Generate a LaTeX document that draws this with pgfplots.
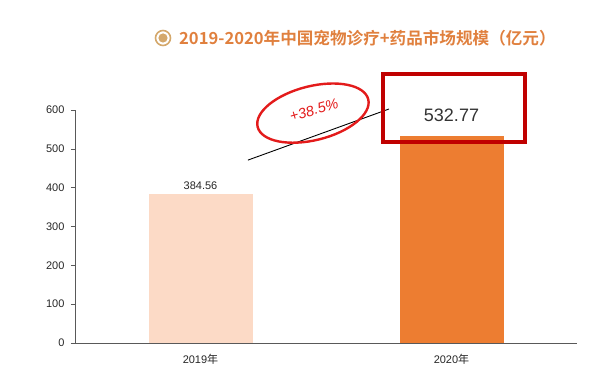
\documentclass[border=0pt]{standalone}
\usepackage{pgfplots}
\pgfplotsset{compat=1.18}
\usepackage{fontspec}
\setmainfont{Liberation Sans}
\newfontfamily\cjk{Noto Sans CJK SC}
\newfontfamily\cjkb{Noto Sans CJK SC Bold}
\definecolor{bar19}{HTML}{FCDAC6}
\definecolor{bar20}{HTML}{ED7D31}
\definecolor{titlec}{HTML}{E0803E}
\definecolor{icon}{HTML}{D4A86C}
\definecolor{boxred}{HTML}{C00000}
\definecolor{inkred}{HTML}{E31B1B}
\definecolor{axgray}{HTML}{595959}
\begin{document}
\begin{tikzpicture}
\path[use as bounding box] (0pt,0pt) rectangle (600pt,391pt);
% title
\draw[icon, line width=1.6pt] (163pt,353pt) circle (7.5pt);
\fill[icon] (163pt,353pt) circle (4.6pt);
\node[anchor=west, text=titlec, inner sep=0pt] at (179pt,353pt) {\fontsize{16.6}{19}\selectfont\cjkb 2019-2020年中国宠物诊疗+药品市场规模（亿元）};
\begin{axis}[
  at={(75pt,48pt)}, anchor=south west,
  scale only axis, width=502pt, height=233pt,
  xmin=-0.5, xmax=1.5, ymin=0, ymax=600,
  axis x line=bottom, axis y line=left,
  axis line style={-, axgray, line width=0.8pt},
  ytick={0,100,...,600},
  xtick={0,1},
  xticklabels={2019{\cjk 年}, 2020{\cjk 年}},
  x tick style={draw=none},
  y tick style={axgray, line width=0.6pt},
  tick align=outside, major tick length=4pt,
  extra x ticks={0.5,1.5}, extra x tick labels={},
  extra x tick style={tick align=inside, major tick length=3pt, tick style={draw=axgray, line width=0.6pt}},
  yticklabel style={font=\fontsize{11}{13}\selectfont, text=black!85, xshift=-3pt},
  xticklabel style={font=\fontsize{11}{13}\selectfont, text=black!85, yshift=-4pt},
  /pgf/number format/assume math mode=true,
  ybar, bar width=104pt,
  clip=false,
]
\addplot[fill=bar19, draw=none, bar shift=0pt,
  nodes near coords, nodes near coords style={font=\fontsize{11}{13}\selectfont, text=black!85, yshift=1pt},
  point meta=explicit symbolic]
  coordinates {(0,384.56) [384.56]};
\addplot[fill=bar20, draw=none, bar shift=0pt,
  nodes near coords, nodes near coords style={font=\fontsize{18}{21}\selectfont, text=black!80, yshift=11pt},
  point meta=explicit symbolic]
  coordinates {(1,532.77) [532.77]};
% growth line
\draw[black, line width=0.9pt] (axis cs:0.189,471) -- (axis cs:0.751,602.6);
% red box
\draw[boxred, line width=3.2pt] (axis cs:0.727,517.6) rectangle (axis cs:1.293,692.7);
% ellipse annotation
\draw[inkred, line width=2.4pt, rotate around={14:(axis cs:0.448,592)}] (axis cs:0.448,592) ellipse (57pt and 27pt);
\node[text=inkred, rotate=16, inner sep=1pt, font=\fontsize{14.5}{17}\selectfont\itshape] at (axis cs:0.452,600) {+38.5\%};
\end{axis}
\end{tikzpicture}
\end{document}
